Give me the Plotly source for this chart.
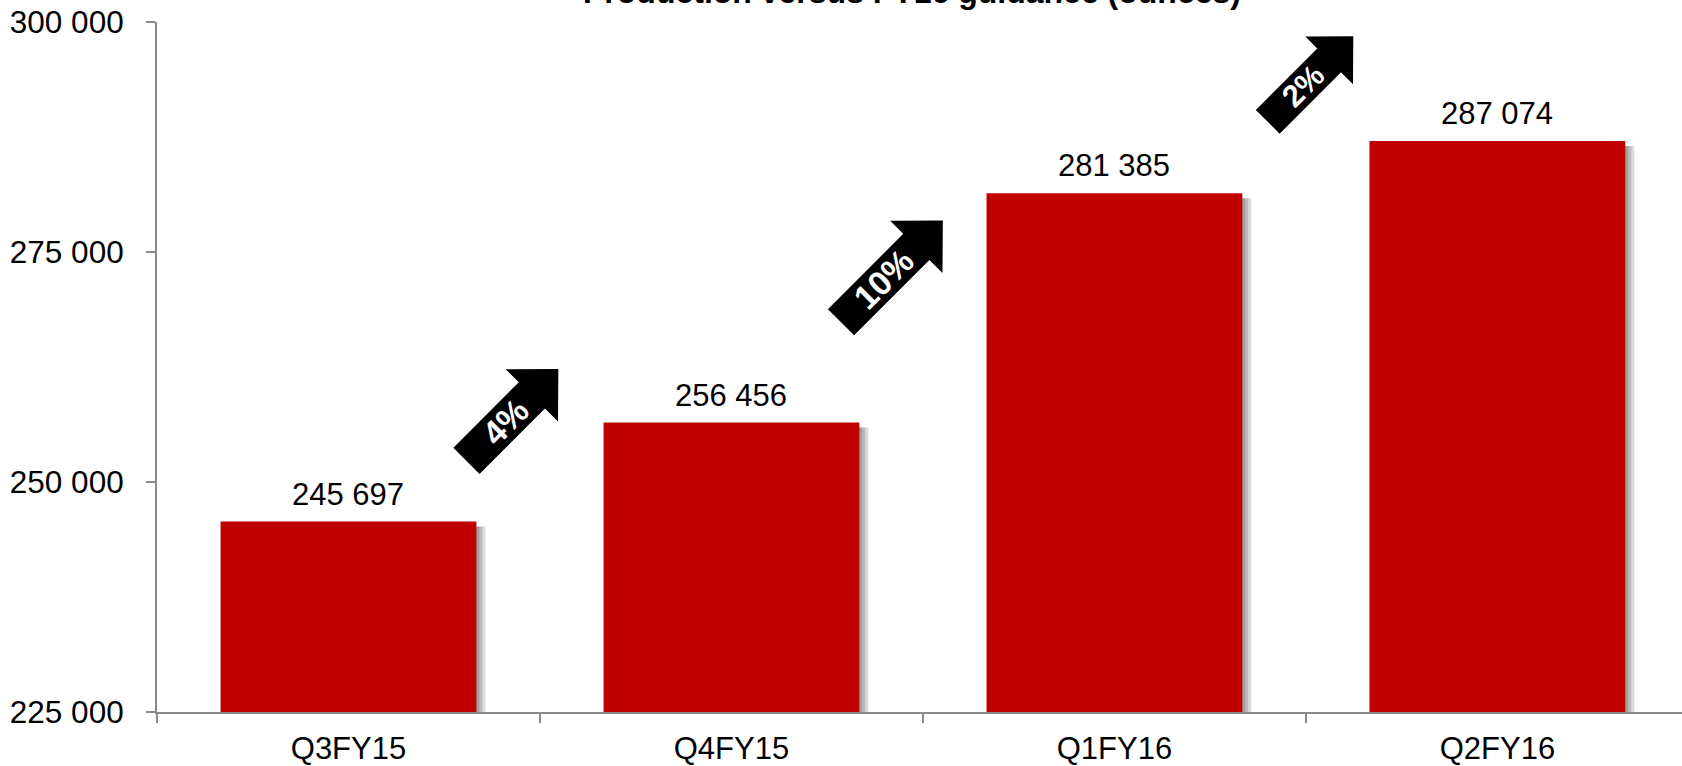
import math
import plotly.graph_objects as go

# Quarterly gold production (ounces)
CATEGORIES = ["Q3FY15", "Q4FY15", "Q1FY16", "Q2FY16"]
PRODUCTION = [245697, 256456, 281385, 287074]
Y_TICKS = [225000, 250000, 275000, 300000]
TITLE = "Production versus FY16 guidance (ounces)"

# Layout constants
W, H = 1682, 766
M_L, M_R, M_T, M_B = 157, 0, 22, 54
Y_RANGE = [225000, 300000]
X_RANGE = [-0.5, 3.482]
BAR_W = 0.668
BAR_RED = "#C00000"
AXIS_GREY = "#8a8a8a"
FONT = "Liberation Sans, Arial, sans-serif"

plot_w = W - M_L - M_R
plot_h = H - M_T - M_B
px_per_x = plot_w / (X_RANGE[1] - X_RANGE[0])
val_per_px = (Y_RANGE[1] - Y_RANGE[0]) / plot_h

# Growth arrows between consecutive quarters: centre (x in category units, y in ounces)
ARROW_X = [0.428, 1.419, 2.512]
ARROW_Y = [257300, 272900, 293800]
ARROW_LEN = [130, 144, 121]
ARROW_SCALE = [1.0, 1.0, 0.91]

fig = go.Figure()

# soft drop shadow to the right of each bar
for k, shift in enumerate([3, 6, 9]):
    fig.add_trace(go.Bar(
        x=CATEGORIES,
        y=[v - Y_RANGE[0] - 5 * val_per_px for v in PRODUCTION],
        base=Y_RANGE[0],
        width=BAR_W,
        offset=-BAR_W / 2 + shift / px_per_x,
        marker=dict(color="rgba(0,0,0,0.14)", line=dict(width=0)),
        hoverinfo="skip",
        showlegend=False,
    ))

fig.add_trace(go.Bar(
    x=CATEGORIES,
    y=[v - Y_RANGE[0] for v in PRODUCTION],
    base=Y_RANGE[0],
    width=BAR_W,
    offset=-BAR_W / 2,
    marker=dict(color=BAR_RED, line=dict(width=0)),
    showlegend=False,
))

annotations = []

# value labels above bars
for cat, v in zip(CATEGORIES, PRODUCTION):
    annotations.append(dict(
        x=cat, y=v, xref="x", yref="y",
        text=f"{v:,}".replace(",", " "),
        showarrow=False, yanchor="bottom", yshift=8,
        font=dict(family=FONT, size=31, color="black"),
    ))

# chart title
annotations.append(dict(
    x=(911.5 - M_L) / plot_w, y=1, xref="paper", yref="paper",
    text=f"<b>{TITLE}</b>", showarrow=False,
    xanchor="center", yanchor="middle", yshift=30,
    font=dict(family=FONT, size=32, color="black"),
))

shapes = []
c, s = math.cos(math.radians(45)), math.sin(math.radians(45))
for i in range(len(PRODUCTION) - 1):
    pct = round((PRODUCTION[i + 1] / PRODUCTION[i] - 1) * 100)
    L = ARROW_LEN[i]
    sc = ARROW_SCALE[i]
    sw, hw, hl = 18.5 * sc, 37.0 * sc, 37.5 * sc
    local = [(0, sw), (L - hl, sw), (L - hl, hw), (L, 0),
             (L - hl, -hw), (L - hl, -sw), (0, -sw)]
    pts = []
    for a, b in local:
        a -= L / 2
        # along-axis u = (c, s), perpendicular v = (-s, c); pixel y points up
        px = a * c - b * s
        py = a * s + b * c
        pts.append((px, py))
    path = "M " + " L ".join(f"{px:.2f},{py:.2f}" for px, py in pts) + " Z"
    shapes.append(dict(
        type="path", path=path,
        xref="x", yref="y",
        xsizemode="pixel", ysizemode="pixel",
        xanchor=ARROW_X[i], yanchor=ARROW_Y[i],
        fillcolor="black", line=dict(width=0),
        layer="above",
    ))
    off = -0.08 * L
    annotations.append(dict(
        x=ARROW_X[i], y=ARROW_Y[i], xref="x", yref="y",
        text=f"<b>{pct}%</b>", showarrow=False,
        xanchor="center", yanchor="middle",
        xshift=off * c, yshift=off * s,
        textangle=-45,
        font=dict(family=FONT, size=34 * ARROW_SCALE[i], color="white"),
    ))

fig.update_layout(
    width=W, height=H,
    margin=dict(l=M_L, r=M_R, t=M_T, b=M_B, pad=0),
    paper_bgcolor="white", plot_bgcolor="white",
    barmode="overlay",
    separators=". ",
    font=dict(family=FONT, size=31, color="black"),
    shapes=shapes,
    annotations=annotations,
    showlegend=False,
)

fig.update_xaxes(
    type="category",
    categoryorder="array", categoryarray=CATEGORIES,
    range=X_RANGE,
    showgrid=False, zeroline=False,
    showline=True, linecolor=AXIS_GREY, linewidth=2,
    ticks="outside", tickson="boundaries", ticklen=9, tickwidth=2,
    tickcolor=AXIS_GREY,
    ticklabelstandoff=8,
    tickfont=dict(family=FONT, size=31, color="black"),
)

fig.update_yaxes(
    range=Y_RANGE,
    tickvals=Y_TICKS,
    tickformat=",d",
    showgrid=False, zeroline=False,
    showline=True, linecolor=AXIS_GREY, linewidth=2,
    ticks="outside", ticklen=9, tickwidth=2, tickcolor=AXIS_GREY,
    ticklabelstandoff=16,
    tickfont=dict(family=FONT, size=31.5, color="black"),
)

fig.write_html("out.html")
